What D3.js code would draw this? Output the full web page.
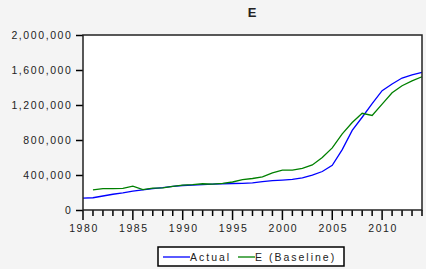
<!DOCTYPE html>
<html>
<head>
<meta charset="utf-8">
<script src="https://cdn.jsdelivr.net/npm/d3@7"></script>
<style>
  body { margin: 0; background: #f4f4f4; }
  svg { display: block; font-family: "Liberation Sans", Arial, sans-serif; }
</style>
</head>
<body>
<div id="chart"></div>
<script>
var years = d3.range(1980, 2015)
var actual = [135000, 140000, 160000, 180000, 195000, 215000, 230000, 245000, 255000, 270000,
  280000, 285000, 290000, 295000, 300000, 303000, 305000, 310000, 325000, 335000,
  342000, 350000, 368000, 398000, 440000, 510000, 690000, 910000, 1060000, 1216000,
  1364000, 1440000, 1508000, 1545000, 1572000]
// baseline starts in 1981
var baseline = [null, 230000, 245000, 245000, 248000, 272000, 232000, 250000, 252000, 270000,
  285000, 290000, 300000, 295000, 305000, 320000, 348000, 360000, 378000, 424000,
  455000, 455000, 475000, 515000, 600000, 710000, 870000, 1000000, 1105000, 1080000,
  1210000, 1340000, 1420000, 1475000, 1523000]
var yTicks = [0, 400000, 800000, 1200000, 1600000, 2000000]
var xLabels = [1980, 1985, 1990, 1995, 2000, 2005, 2010]
var seriesNames = ["Actual", "E (Baseline)"]
var seriesColors = ["#0000ff", "#008000"]

var W = 426, H = 269
var margin = {top: 35, right: 4, bottom: 59, left: 83}
var w = W - margin.left - margin.right, h = H - margin.top - margin.bottom

var svg = d3.select("#chart").append("svg").attr("width", W).attr("height", H)
svg.append("rect").attr("width", W).attr("height", H).attr("fill", "#f4f4f4")

svg.append("text").attr("x", 252).attr("y", 17).attr("text-anchor", "middle")
  .attr("font-size", 13).attr("font-weight", "bold").attr("fill", "#222").text("E")

var g = svg.append("g").attr("transform", "translate(" + margin.left + "," + margin.top + ")")

var x = d3.scaleLinear().domain([1980, 2014]).range([0, w])
var y = d3.scaleLinear().domain([0, 2000000]).range([h, 0])

g.append("rect").attr("width", w).attr("height", h).attr("fill", "#fff")

// y axis
var yAxis = d3.axisLeft(y).tickValues(yTicks).tickSize(7).tickPadding(3.5).tickFormat(d3.format(","))
var ya = g.append("g").call(yAxis)
ya.select(".domain").remove()
ya.selectAll("line").attr("stroke", "#000").attr("stroke-width", 1.5)
ya.selectAll("text").attr("font-size", 10.5).attr("letter-spacing", 1.6).attr("fill", "#222")
  .attr("font-family", "Liberation Sans, Arial, sans-serif")

// x axis: minor ticks every year, long ticks every 5
var xa = g.append("g").attr("transform", "translate(0," + h + ")")
xa.selectAll("line.minor").data(years).enter().append("line")
  .attr("x1", function(d) { return x(d) }).attr("x2", function(d) { return x(d) })
  .attr("y1", 0).attr("y2", function(d) { return d % 5 == 0 ? 10 : 6 })
  .attr("stroke", "#000").attr("stroke-width", 1.5)
xa.selectAll("text").data(xLabels).enter().append("text")
  .attr("x", function(d) { return x(d) + 1 }).attr("y", 22)
  .attr("text-anchor", "middle").attr("font-size", 10.5).attr("letter-spacing", 1.6)
  .attr("fill", "#222").text(function(d) { return d })

var line = d3.line()
  .defined(function(d) { return d[1] != null })
  .x(function(d) { return x(d[0]) })
  .y(function(d) { return y(d[1]) })

g.append("path").datum(years.map(function(yr, i) { return [yr, actual[i]] }))
  .attr("d", line).attr("fill", "none").attr("stroke", seriesColors[0]).attr("stroke-width", 1.3)
g.append("path").datum(years.map(function(yr, i) { return [yr, baseline[i]] }))
  .attr("d", line).attr("fill", "none").attr("stroke", seriesColors[1]).attr("stroke-width", 1.3)

// frame
g.append("rect").attr("width", w).attr("height", h).attr("fill", "none")
  .attr("stroke", "#222").attr("stroke-width", 1.5)

// legend
var lg = svg.append("g").attr("transform", "translate(158,247)")
lg.append("rect").attr("width", 186).attr("height", 19).attr("fill", "#fff")
  .attr("stroke", "#000").attr("stroke-width", 1.5)
var items = [{x: 5, tx: 32}, {x: 80, tx: 97}]
var lineLen = [27, 17]
seriesNames.forEach(function(name, i) {
  lg.append("line").attr("x1", items[i].x).attr("x2", items[i].x + lineLen[i])
    .attr("y1", 10).attr("y2", 10).attr("stroke", seriesColors[i]).attr("stroke-width", 1.3)
  lg.append("text").attr("x", items[i].tx).attr("y", 14).attr("font-size", 10.5)
    .attr("letter-spacing", 2).attr("fill", "#222").text(name)
})
</script>
</body>
</html>
